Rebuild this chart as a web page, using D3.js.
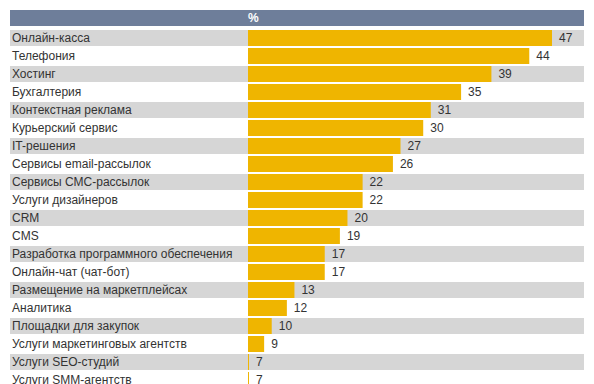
<!DOCTYPE html>
<html><head><meta charset="utf-8">
<script src="https://cdn.jsdelivr.net/npm/d3@7"></script>
<style>body{margin:0;background:#fff}svg{display:block}</style>
</head><body>
<svg id="c" width="594" height="384"></svg>
<script>
const categories = ["Онлайн-касса","Телефония","Хостинг","Бухгалтерия","Контекстная реклама","Курьерский сервис","IT-решения","Сервисы email-рассылок","Сервисы СМС-рассылок","Услуги дизайнеров","CRM","CMS","Разработка программного обеспечения","Онлайн-чат (чат-бот)","Размещение на маркетплейсах","Аналитика","Площадки для закупок","Услуги маркетинговых агентств","Услуги SEO-студий","Услуги SMM-агентств"];
const values = [47,44,39,35,31,30,27,26,22,22,20,19,17,17,13,12,10,9,7,7];
const headerLabel = "%";

const svg = d3.select("#c");
const font = "Liberation Sans, Arial, sans-serif";
const mLeft = 10, mRight = 584, mTop = 30, pitch = 18;

const x = d3.scaleLinear().domain([6.87, 47]).range([248, 552]);
const y = d3.scaleBand().domain(categories)
  .range([mTop, mTop + pitch * categories.length - 2])
  .paddingInner(2 / 18).paddingOuter(0);
const bh = y.bandwidth();

// header
svg.append("rect").attr("x", mLeft).attr("y", 10).attr("width", mRight - mLeft).attr("height", 16).attr("fill", "#6e7e9a");
svg.append("text").attr("x", 248).attr("y", 21.5).attr("fill", "#fff").attr("font-family", font)
  .attr("font-weight", "bold").attr("font-size", 12).text(headerLabel);

const data = categories.map((c, i) => ({ c, v: values[i], i }));
const rows = svg.selectAll("g.row").data(data).join("g").attr("class", "row");
rows.append("rect").attr("x", mLeft).attr("width", mRight - mLeft)
  .attr("y", d => y(d.c)).attr("height", bh)
  .attr("fill", d => d.i % 2 === 0 ? "#d6d6d6" : "none");
rows.append("rect").attr("x", x(x.domain()[0]))
  .attr("y", d => y(d.c)).attr("height", bh)
  .attr("width", d => x(d.v) - x(x.domain()[0]))
  .attr("fill", "#efb500");
rows.append("text").attr("x", 12).attr("y", d => y(d.c) + bh / 2 + 3.5)
  .attr("font-family", font).attr("font-size", 12).attr("fill", "#333").text(d => d.c);
rows.append("text").attr("x", d => x(d.v) + 7).attr("y", d => y(d.c) + bh / 2 + 3.5)
  .attr("font-family", font).attr("font-size", 12).attr("fill", "#333").text(d => d.v);
</script>
</body></html>
